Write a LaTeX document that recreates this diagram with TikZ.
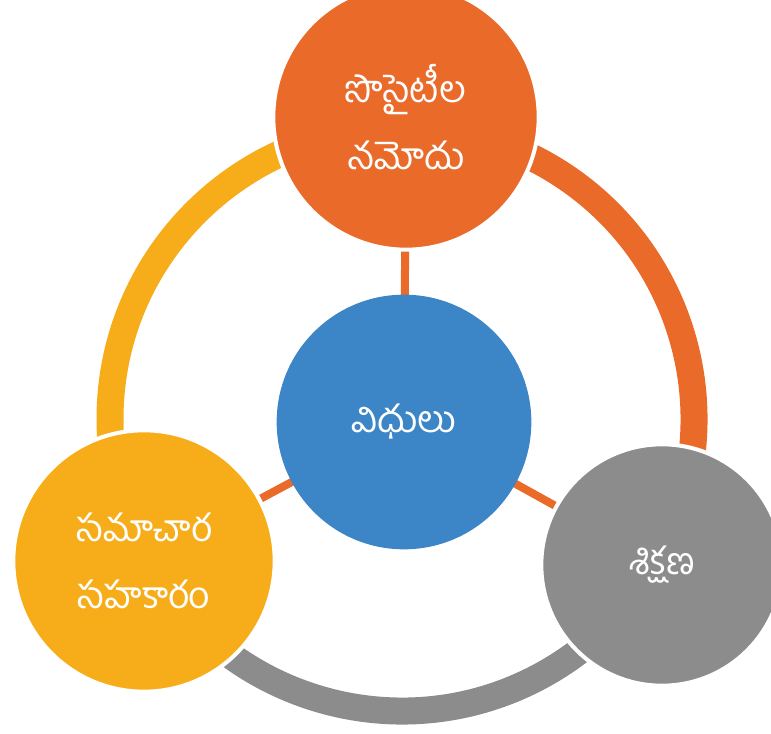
\documentclass[tikz,border=0pt]{standalone}
\usepackage{fontspec}
\newfontfamily\telugu[Script=Telugu]{Hind Guntur}
\usetikzlibrary{calc,backgrounds}
\definecolor{corange}{RGB}{233,106,41}
\definecolor{cblue}{RGB}{60,133,198}
\definecolor{cyellow}{RGB}{246,173,25}
\definecolor{cgray}{RGB}{140,140,140}
\begin{document}
\begin{tikzpicture}[x=0.75pt,y=0.75pt,
  band/.style={line width=20.25pt},
  spoke/.style={line width=6pt, draw=corange},
  bubble/.style={circle, draw=white, line width=3pt, inner sep=0pt, text=white,
    align=center, font=\telugu\fontsize{28}{50}\selectfont},
]
\useasboundingbox (0,0) rectangle (771,733);
\clip (0,0) rectangle (771,733);
\coordinate (R) at (402,314);
\node[bubble, fill=corange, minimum size=199pt] (O) at (406,616) {సొసైటీల\\నమోదు};
\node[bubble, fill=cblue, draw=none, minimum size=191pt] (B) at (404,311) {విధులు};
\node[bubble, fill=cyellow, minimum size=196pt] (Y) at (144,172) {సమాచార\\సహకారం};
\node[bubble, fill=cgray, minimum size=181pt] (G) at (662,168) {శిక్షణ};
\begin{pgfonlayer}{background}
  \draw[band, draw=cyellow] (R) ++(89:219pt) arc[start angle=89, end angle=209, radius=219pt];
  \draw[band, draw=corange] (R) ++(-31:219pt) arc[start angle=-31, end angle=89, radius=219pt];
  \draw[band, draw=cgray] (R) ++(209:219pt) arc[start angle=209, end angle=329, radius=219pt];
  \draw[spoke] (B.center) -- (O.center);
  \draw[spoke] (B.center) -- (Y.center);
  \draw[spoke] (B.center) -- (G.center);
\end{pgfonlayer}
\end{tikzpicture}
\end{document}
